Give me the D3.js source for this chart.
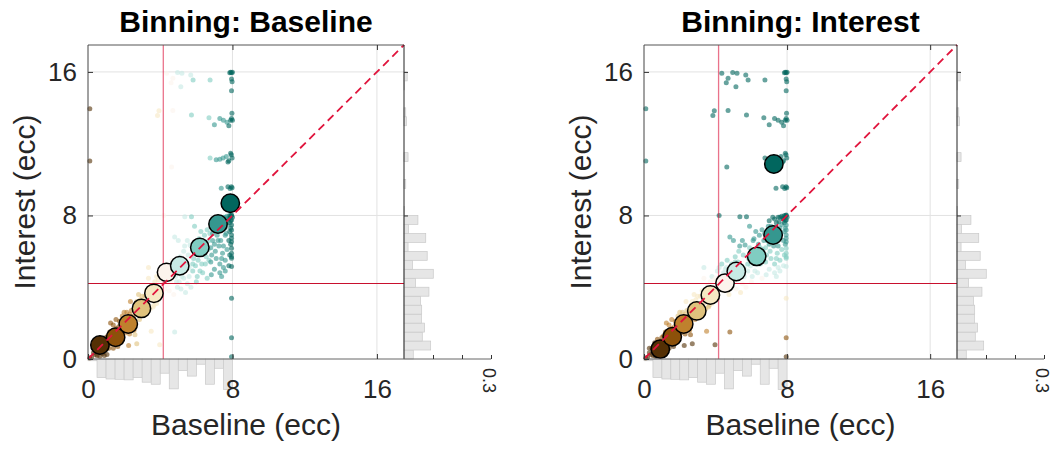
<!DOCTYPE html>
<html>
<head>
<meta charset="utf-8">
<script src="https://cdn.jsdelivr.net/npm/d3@7"></script>
<style>
  body { margin: 0; background: #fff; }
  text { font-family: "Liberation Sans", Arial, sans-serif; }
</style>
</head>
<body>
<svg id="chart" width="1057" height="450"></svg>
<script>
// data
const axisTicks = [0, 8, 16];
const gridVals = [8, 16];
const histTicks = [0.1, 0.2, 0.3];
const binWidth = 0.5;

// paired samples (same subjects in both panels)
const baselineEcc = [
  0.1,0.2,0.3,0.4,0.45,0.55,0.6,0.65,0.7,0.75,0.8,0.85,0.9,0.95,1.0,1.05,1.1,1.15,1.2,1.25,1.3,1.35,1.4,1.45,1.5,1.55,1.6,1.65,1.7,1.75,1.8,1.85,1.9,1.95,2.0,2.05,2.1,2.15,2.2,2.25,2.3,2.35,2.4,2.45,2.5,2.55,2.6,2.7,
  0.3,0.5,0.6,0.8,0.9,1.0,1.1,1.2,1.3,1.4,1.5,1.6,1.7,1.8,1.9,2.0,2.1,2.2,2.3,2.4,2.5,0.7,1.0,1.55,
  2.65,2.75,2.8,2.85,2.9,3.0,3.05,3.1,3.15,3.2,3.25,3.3,3.35,3.35,3.4,3.45,3.5,3.5,3.55,3.6,3.65,3.7,3.75,3.8,3.85,3.9,3.95,3.97,
  2.7,2.9,3.0,3.1,3.2,3.4,3.5,3.6,3.7,3.8,3.9,2.8,
  4.0,4.05,4.1,4.15,4.2,4.2,4.25,4.3,4.35,4.4,4.45,4.5,4.55,4.6,4.65,4.7,4.75,4.8,4.1,4.4,4.6,4.9,5.2,
  4.85,4.9,4.95,5.0,5.0,5.05,5.1,5.15,5.2,5.25,5.3,5.35,5.36,5.4,5.45,5.5,5.55,5.6,5.65,5.7,4.8,
  5.73,5.8,5.85,5.9,5.95,6.0,6.05,6.1,6.15,6.2,6.25,6.3,6.35,6.4,6.45,6.5,6.55,6.6,6.65,6.7,6.75,
  6.8,6.83,6.85,6.9,6.95,7.0,7.05,7.1,7.15,7.2,7.25,7.3,7.3,7.35,7.4,7.4,7.45,7.5,7.5,7.55,7.6,7.6,7.65,7.7,7.7,7.75,7.8,7.8,7.85,7.85,7.9,7.9,
  5.9,6.1,6.3,6.5,6.6,6.7,6.9,7.0,7.1,7.2,7.3,7.4,7.5,7.6,7.7,7.8,7.85,7.9,7.2,7.0,6.8,7.6,7.4,6.2,5.8,6.0,5.6,5.3,5.1,5.5,
  7.95,7.95,7.95,7.95,7.95,7.95,7.95,7.95,7.95,7.95,7.95,7.95,7.95,7.95,7.95,7.95,7.9,7.85,8.0,7.6,
  0.1,0.1,
  7.9,7.95,8.0,7.85,7.95,7.98,7.95,7.97,7.3,7.5,7.7,7.9,7.95,8.0,6.7,7.0,7.8,5.73,4.7,3.93,3.85,4.35,4.7,4.6,4.96,5.2,5.69,5.82,5.14,6.76,
  6.76,7.1,7.3,7.48,7.66,7.8,7.94,7.98,7.9,7.75,4.63,
  7.38,7.75,7.94,7.87,7.98
];
const interestEcc = [
  0.05,0.1,0.35,0.25,0.6,0.4,0.9,0.15,0.5,1.1,0.3,0.7,0.5,1.0,0.8,0.25,1.3,0.6,1.1,2.0,0.85,1.5,1.9,1.2,0.95,1.7,1.45,0.7,1.25,2.1,1.55,0.95,2.4,1.8,2.0,1.45,2.3,2.6,1.75,0.75,2.5,3.2,1.9,2.2,2.4,1.6,1.35,0.85,
  0.6,0.2,0.7,0.9,0.2,0.55,0.75,1.5,1.25,0.6,1.35,1.1,1.8,1.2,1.5,2.6,1.9,2.1,1.4,2.7,1.9,0.8,1.2,2.2,
  3.0,2.5,3.6,2.2,3.3,2.7,3.1,2.45,3.5,2.9,3.8,3.05,4.5,5.1,3.9,2.8,1.55,3.3,4.1,3.6,3.0,4.3,3.4,4.6,3.8,3.3,4.0,0.8,
  3.2,2.6,3.5,3.0,2.5,3.4,3.7,2.9,3.8,3.1,4.4,2.9,
  4.5,3.7,4.9,4.2,5.1,8.0,3.9,4.6,5.3,4.1,4.8,3.8,5.0,4.4,5.5,4.7,3.6,1.5,4.3,4.5,5.1,4.3,4.6,
  4.6,5.3,4.0,6.6,5.0,4.3,5.7,3.9,4.9,5.4,4.5,6.3,7.93,3.7,5.1,4.2,5.8,4.6,6.35,4.0,6.8,
  7.93,4.9,5.6,7.4,5.2,6.0,4.6,5.5,6.7,5.9,7.1,5.3,4.8,6.4,6.9,5.3,5.7,4.5,6.1,5.5,7.0,
  6.2,4.7,5.8,6.6,7.4,5.0,6.0,5.6,6.9,7.3,6.3,4.8,5.3,6.6,4.6,7.2,5.9,5.1,6.3,7.65,5.5,6.9,7.0,6.1,7.5,7.84,6.6,5.2,5.8,7.1,6.4,7.7,
  6.2,6.6,6.0,6.2,7.2,6.6,7.0,7.7,7.4,6.6,7.8,7.6,7.9,7.3,7.95,7.8,7.6,7.3,7.9,6.4,5.4,4.9,5.6,4.9,5.3,4.3,5.1,6.0,5.4,6.6,
  8.03,7.75,7.47,7.19,6.91,6.73,6.54,6.17,5.89,5.7,5.61,5.15,3.38,1.19,0.12,8.0,7.95,8.0,7.9,7.9,
  13.95,11.04,
  15.98,15.95,15.98,15.96,15.6,15.45,14.95,13.7,13.4,13.3,13.2,13.3,13.4,13.3,13.45,13.05,13.0,13.6,13.85,13.83,13.57,15.92,15.65,15.4,15.97,15.92,15.83,15.55,15.18,15.55,
  11.2,11.1,11.13,11.2,11.28,11.05,11.38,11.2,11.47,10.98,10.7,
  9.52,9.6,9.6,9.5,9.55
];

// proportion per 0.5-ecc bin, starting at 0
const baselineHist = [0.006,0.064,0.069,0.070,0.072,0.064,0.080,0.087,0.049,0.103,0.040,0.059,0.018,0.087,0.032,0.105];
const interestHist = [0.032,0.092,0.063,0.071,0.060,0.061,0.057,0.086,0.040,0.101,0.029,0.080,0.014,0.075,0.015,0.048,
                      0.002,0,0,0.006,0,0,0.014,0,0,0,0.009,0.006,0,0,0.002,0.011];

// decile bins and their means
const baselineEdges = [0, 1.1, 1.85, 2.6, 3.3, 4.0, 4.8, 5.72, 6.78, 7.75, 8.1];
const interestEdges = [0, 0.95, 1.55, 2.3, 3.1, 3.9, 4.55, 5.3, 6.3, 7.6, 17.5];
const baselineBinX = [0.66, 1.53, 2.23, 2.96, 3.65, 4.35, 5.08, 6.19, 7.2, 7.88];
const baselineBinY = [0.78, 1.21, 1.95, 2.82, 3.66, 4.83, 5.2, 6.22, 7.52, 8.68];
const interestBinX = [0.91, 1.58, 2.22, 2.95, 3.71, 4.53, 5.16, 6.3, 7.22, 7.26];
const interestBinY = [0.55, 1.24, 1.95, 2.68, 3.57, 4.23, 4.88, 5.72, 6.91, 10.87];
const binColors = ["#543005","#8c510a","#bf812d","#dfc27d","#f6e8c3","#fcf3ec","#c7eae5","#80cdc1","#35978f","#01665e"];

const thresholdX = 4.17;
const thresholdY = 4.24;
const lim = [0, 17.5];

const svg = d3.select("#chart");
const yTop = 45, yBot = 359, histW = 87;
const tickCol = "#262626";

const panels = [
  {title: "Binning: Baseline", x0: 88, x1: 404, edges: baselineEdges, mx: baselineBinX, my: baselineBinY, by: 0},
  {title: "Binning: Interest", x0: 644, x1: 957, edges: interestEdges, mx: interestBinX, my: interestBinY, by: 1}
];

panels.forEach(p => {
  const x = d3.scaleLinear().domain(lim).range([p.x0, p.x1]);
  const y = d3.scaleLinear().domain(lim).range([yBot, yTop]);
  const h = d3.scaleLinear().domain([0, 0.3]).range([0, histW]);
  const g = svg.append("g");

  // grid
  g.selectAll(".gx").data(gridVals).join("line")
    .attr("x1", d => x(d)).attr("x2", d => x(d)).attr("y1", yTop).attr("y2", yBot)
    .attr("stroke", "#e2e2e2").attr("stroke-width", 1);
  g.selectAll(".gy").data(gridVals).join("line")
    .attr("x1", p.x0).attr("x2", p.x1).attr("y1", d => y(d)).attr("y2", d => y(d))
    .attr("stroke", "#e2e2e2").attr("stroke-width", 1);

  // marginal histograms
  g.append("g").selectAll("rect").data(baselineHist).join("rect")
    .attr("x", (d, i) => x(i * binWidth)).attr("width", x(binWidth) - x(0))
    .attr("y", yBot).attr("height", d => h(d))
    .attr("fill", "#e6e6e6").attr("stroke", "#c9c9c9").attr("stroke-width", 0.7);
  g.append("g").selectAll("rect").data(interestHist).join("rect")
    .attr("x", p.x1).attr("width", d => h(d))
    .attr("y", (d, i) => y((i + 1) * binWidth)).attr("height", y(0) - y(binWidth))
    .attr("fill", "#e6e6e6").attr("stroke", "#c9c9c9").attr("stroke-width", 0.7);

  // scatter, coloured by bin
  const inner = p.edges.slice(1, -1);
  const pts = baselineEcc.map((bx, i) => [bx, interestEcc[i]]);
  g.append("g").selectAll("circle").data(pts).join("circle")
    .attr("cx", d => x(d[0])).attr("cy", d => y(d[1])).attr("r", 2.5)
    .attr("fill", d => binColors[Math.min(9, d3.bisectRight(inner, d[p.by]))])
    .attr("fill-opacity", 0.6);

  // thresholds
  g.append("line").attr("x1", x(thresholdX)).attr("x2", x(thresholdX)).attr("y1", yTop).attr("y2", yBot)
    .attr("stroke", "#dc143c").attr("stroke-opacity", 0.6).attr("stroke-width", 1.3);
  g.append("line").attr("x1", p.x0).attr("x2", p.x1)
    .attr("y1", Math.round(y(thresholdY)) + 0.5).attr("y2", Math.round(y(thresholdY)) + 0.5)
    .attr("stroke", "#c8102e").attr("stroke-width", 1.1);

  // bin means
  g.append("g").selectAll("circle").data(p.mx).join("circle")
    .attr("cx", d => x(d)).attr("cy", (d, i) => y(p.my[i])).attr("r", 9.2)
    .attr("fill", (d, i) => binColors[i]).attr("stroke", "#000").attr("stroke-width", 1.5);

  // identity line
  g.append("line").attr("x1", x(0)).attr("y1", y(0)).attr("x2", x(lim[1])).attr("y2", y(lim[1]))
    .attr("stroke", "#e0143c").attr("stroke-width", 1.8).attr("stroke-dasharray", "8,5");

  // axes
  const ax = g.append("g").attr("fill", "none").attr("stroke-width", 1);
  ax.append("line").attr("x1", p.x0).attr("x2", p.x1).attr("y1", yTop).attr("y2", yTop).attr("stroke", "#555");
  ax.append("line").attr("x1", p.x0).attr("x2", p.x0).attr("y1", yTop).attr("y2", yBot).attr("stroke", "#444");
  ax.append("line").attr("x1", p.x1).attr("x2", p.x1).attr("y1", yTop).attr("y2", yBot).attr("stroke", "#222");
  ax.append("line").attr("x1", p.x0).attr("x2", p.x1 + histW).attr("y1", yBot).attr("y2", yBot).attr("stroke", "#666");

  const left = g.append("g").attr("transform", `translate(${p.x0},0)`)
    .call(d3.axisLeft(y).tickValues(axisTicks).tickSize(-5).tickPadding(11));
  const bot = g.append("g").attr("transform", `translate(0,${yBot})`)
    .call(d3.axisBottom(x).tickValues(axisTicks).tickSize(-5).tickPadding(21));
  g.append("g").attr("transform", `translate(0,${yTop})`)
    .call(d3.axisTop(x).tickValues(gridVals).tickSize(-5).tickFormat(""));
  g.append("g").attr("transform", `translate(${p.x1},0)`)
    .call(d3.axisRight(y).tickValues(gridVals).tickSize(4).tickFormat(""));
  const hx = d3.scaleLinear().domain([0, 0.3]).range([p.x1, p.x1 + histW]);
  g.append("g").attr("transform", `translate(0,${yBot})`)
    .call(d3.axisBottom(hx).tickValues(histTicks).tickSize(-4).tickFormat(""));
  g.selectAll(".domain").remove();
  g.selectAll(".tick line").attr("stroke", "#333");
  [left, bot].forEach(a => a.selectAll("text")
    .attr("font-size", 26).attr("fill", tickCol).attr("font-family", "Liberation Sans, Arial, sans-serif"));

  g.append("text").attr("transform", `translate(${hx(0.3) - 2},${yBot + 9}) rotate(90)`)
    .attr("dominant-baseline", "central").attr("font-size", 18).attr("fill", tickCol).text("0.3");

  // labels
  g.append("text").attr("x", (p.x0 + p.x1) / 2).attr("y", 32).attr("text-anchor", "middle")
    .attr("font-size", 30).attr("font-weight", "bold").attr("fill", "#000").text(p.title);
  g.append("text").attr("x", (p.x0 + p.x1) / 2).attr("y", 435).attr("text-anchor", "middle")
    .attr("font-size", 30).attr("fill", tickCol).text("Baseline (ecc)");
  g.append("text").attr("transform", `translate(${p.x0 - 53},${(yTop + yBot) / 2}) rotate(-90)`)
    .attr("text-anchor", "middle").attr("font-size", 30).attr("fill", tickCol).text("Interest (ecc)");
});
</script>
</body>
</html>
